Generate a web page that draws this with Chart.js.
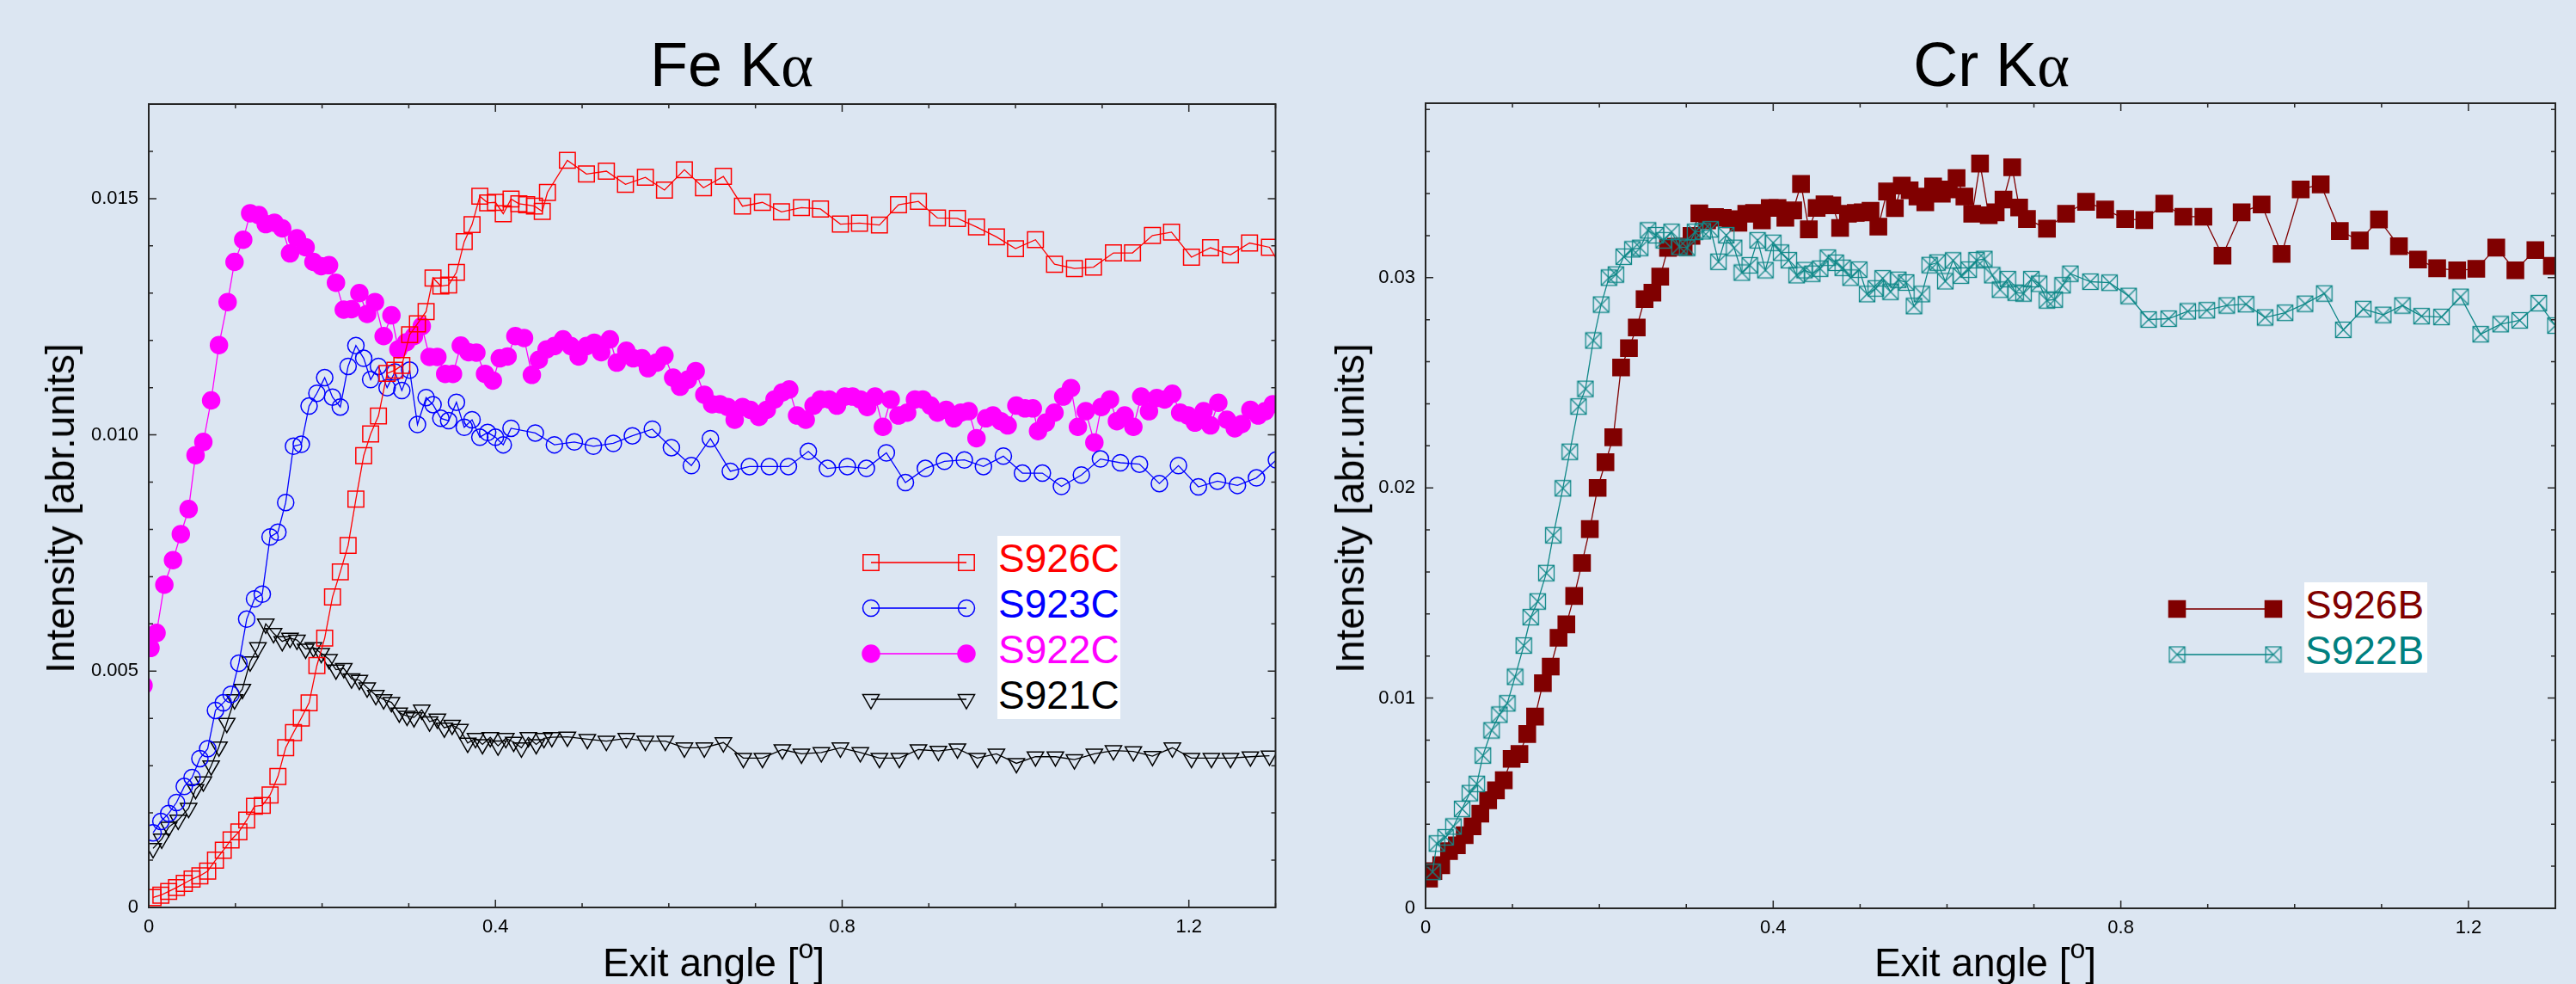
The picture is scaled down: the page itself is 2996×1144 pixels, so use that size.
<!DOCTYPE html>
<html>
<head>
<meta charset="utf-8">
<title>Fe Kα / Cr Kα exit angle scans</title>
<script src="https://cdn.jsdelivr.net/npm/chart.js@4.4.1/dist/chart.umd.min.js"></script>
<style>
  html, body { margin: 0; padding: 0; }
  body {
    width: 2996px; height: 1144px; position: relative; overflow: hidden;
    background: #dce6f2; color: #000;
    font-family: "Liberation Sans", Arial, Helvetica, sans-serif;
  }
  canvas { position: absolute; top: 0; }
  .title { position: absolute; font-size: 72px; line-height: 72px; white-space: nowrap; transform: translateX(-50%); }
  .alpha { font-family: "Liberation Serif", "DejaVu Serif", serif; }
  .xtitle { position: absolute; font-size: 46px; line-height: 46px; white-space: nowrap; transform: translateX(-50%); }
  .xtitle .deg { font-size: 32px; position: relative; top: -21px; }
  .ytitle { position: absolute; font-size: 46px; line-height: 46px; white-space: nowrap; transform: translate(-50%, -50%) rotate(-90deg); }
  .legbox { position: absolute; background: #fff; font-size: 46px; line-height: 53px; width: 143px; padding-left: 1px; box-sizing: border-box; }
</style>
</head>
<body>
<canvas id="feChart" width="1498" height="1144" style="left:0"></canvas>
<canvas id="crChart" width="1498" height="1144" style="left:1498px"></canvas>

<div class="title" style="left:851px; top:39px">Fe K<span class="alpha">α</span></div>
<div class="title" style="left:2316px; top:39px">Cr K<span class="alpha">α</span></div>
<div class="ytitle" style="left:70px; top:591px">Intensity [abr.units]</div>
<div class="ytitle" style="left:1570px; top:591px">Intensity [abr.units]</div>
<div class="xtitle" style="left:830px; top:1096px">Exit angle [<span class="deg">o</span>]</div>
<div class="xtitle" style="left:2309px; top:1096px">Exit angle [<span class="deg">o</span>]</div>

<div class="legbox" style="left:1160px; top:623px; height:213px">
  <div style="color:#ff0000">S926C</div>
  <div style="color:#0000ff">S923C</div>
  <div style="color:#ff00ff">S922C</div>
  <div style="color:#000000">S921C</div>
</div>
<div class="legbox" style="left:2680px; top:677px; height:105px; line-height:52.5px">
  <div style="color:#800000">S926B</div>
  <div style="color:#008080">S922B</div>
</div>

<script>
// ---- axis ticks ----
const xTicks = [0, 0.4, 0.8, 1.2];
const xLabels = ['0', '0.4', '0.8', '1.2'];
const feYTicks = [0, 0.005, 0.010, 0.015];
const feYLabels = ['0', '0.005', '0.010', '0.015'];
const crYTicks = [0, 0.01, 0.02, 0.03];
const crYLabels = ['0', '0.01', '0.02', '0.03'];

// ---- Fe K-alpha : S926C ----
const feS926cX = [0.005,0.014,0.023,0.032,0.041,0.050,0.059,0.068,0.077,0.086,0.095,0.104,0.113,0.122,0.131,0.140,0.149,0.158,0.167,0.176,0.185,0.194,0.203,0.212,0.221,0.230,0.239,0.248,0.256,0.265,0.275,0.284,0.292,0.301,0.310,0.320,0.328,0.337,0.346,0.355,0.364,0.373,0.382,0.391,0.400,0.409,0.418,0.427,0.436,0.445,0.454,0.460,
  0.483,0.505,0.528,0.550,0.573,0.595,0.618,0.640,0.663,0.685,0.708,0.730,0.753,0.775,0.798,0.820,0.843,0.865,0.888,0.910,0.933,0.955,0.978,1.000,1.023,1.045,1.068,1.090,1.113,1.135,1.158,1.180,1.203,1.225,1.248,1.270,1.293,1.315];
const feS926cY = [0.00021,0.00026,0.00034,0.00042,0.00051,0.00060,0.00067,0.00077,0.00100,0.00121,0.00143,0.00160,0.00185,0.00214,0.00216,0.00238,0.00277,0.00338,0.00370,0.00401,0.00433,0.00512,0.00570,0.00657,0.00710,0.00766,0.00864,0.00956,0.01002,0.01040,0.01130,0.01137,0.01147,0.01212,0.01235,0.01261,0.01332,0.01315,0.01317,0.01344,0.01409,0.01445,0.01505,0.01491,0.01492,0.01468,0.01499,0.01489,0.01487,0.01484,0.01473,0.01513,
  0.01581,0.01552,0.01558,0.01530,0.01545,0.01518,0.01561,0.01523,0.01547,0.01484,0.01492,0.01472,0.01481,0.01478,0.01446,0.01448,0.01444,0.01487,0.01494,0.01459,0.01458,0.01440,0.01419,0.01394,0.01413,0.01361,0.01352,0.01355,0.01385,0.01385,0.01422,0.01429,0.01376,0.01396,0.01381,0.01406,0.01397,0.01330];

// ---- Fe K-alpha : S923C ----
const feS923cX = [0.005,0.014,0.023,0.032,0.041,0.050,0.059,0.068,0.077,0.086,0.095,0.104,0.113,0.122,0.131,0.140,0.149,0.158,0.167,0.176,0.185,0.194,0.203,0.212,0.221,0.230,0.239,0.248,0.256,0.265,0.275,0.284,0.292,0.301,0.310,0.320,0.328,0.337,0.346,0.355,0.364,0.373,0.382,0.391,0.400,0.409,0.418,
  0.446,0.468,0.491,0.513,0.536,0.558,0.581,0.603,0.626,0.648,0.671,0.693,0.716,0.738,0.761,0.783,0.806,0.828,0.851,0.873,0.896,0.918,0.941,0.963,0.986,1.008,1.031,1.053,1.076,1.098,1.121,1.143,1.166,1.188,1.211,1.233,1.256,1.278,1.301];
const feS923cY = [0.00158,0.00182,0.00199,0.00222,0.00256,0.00275,0.00315,0.00336,0.00417,0.00433,0.00451,0.00517,0.00610,0.00653,0.00663,0.00784,0.00794,0.00857,0.00976,0.00980,0.01061,0.01088,0.01121,0.01080,0.01059,0.01145,0.01189,0.01162,0.01117,0.01145,0.01100,0.01133,0.01094,0.01137,0.01022,0.01079,0.01064,0.01035,0.01030,0.01069,0.01016,0.01032,0.00995,0.01005,0.00995,0.00979,0.01014,
  0.01004,0.00979,0.00985,0.00976,0.00982,0.00998,0.01012,0.00973,0.00935,0.00992,0.00923,0.00933,0.00933,0.00933,0.00965,0.00929,0.00933,0.00929,0.00962,0.00899,0.00929,0.00944,0.00947,0.00933,0.00955,0.00919,0.00919,0.00891,0.00915,0.00949,0.00941,0.00938,0.00897,0.00935,0.00890,0.00902,0.00893,0.00909,0.00947];

// ---- Fe K-alpha : S922C ----
const feS922cX = [-0.006,0.002,0.009,0.018,0.028,0.037,0.046,0.054,0.063,0.072,0.081,0.091,0.099,0.109,0.117,0.127,0.135,0.145,0.154,0.163,0.171,0.181,0.190,0.199,0.208,0.216,0.225,0.234,0.243,0.252,0.261,0.271,0.280,0.288,0.297,0.306,0.315,0.324,0.333,0.342,0.351,0.360,0.369,0.378,0.388,0.397,0.405,0.414,0.423,0.433,0.442,0.450,0.459,0.468,0.478,0.487,0.496,0.505,0.514,
  0.522,0.532,0.540,0.551,0.559,0.569,0.576,0.586,0.595,0.605,0.613,0.622,0.631,0.641,0.650,0.659,0.668,0.676,0.685,0.694,0.704,0.713,0.722,0.731,0.739,0.748,0.758,0.767,0.775,0.785,0.794,0.803,0.812,0.821,0.829,0.838,0.847,0.856,0.865,0.875,0.884,0.893,0.902,0.910,0.920,0.929,0.937,0.946,0.955,0.966,0.974,0.983,0.991,1.001,1.011,1.020,1.026,1.035,1.045,1.055,1.064,1.072,1.081,1.091,1.099,1.109,1.117,1.126,1.136,1.145,1.154,1.163,1.172,1.181,1.190,1.199,1.207,1.217,1.225,1.234,1.244,1.253,1.261,1.271,1.280,1.288,1.297];
const feS922cY = [0.00470,0.00549,0.00581,0.00683,0.00735,0.00790,0.00843,0.00957,0.00985,0.01073,0.01190,0.01281,0.01366,0.01413,0.01469,0.01465,0.01446,0.01449,0.01437,0.01384,0.01416,0.01397,0.01366,0.01357,0.01359,0.01322,0.01265,0.01266,0.01300,0.01256,0.01281,0.01209,0.01253,0.01181,0.01196,0.01209,0.01230,0.01165,0.01165,0.01129,0.01129,0.01189,0.01175,0.01174,0.01129,0.01115,0.01162,0.01166,0.01209,0.01205,0.01127,0.01159,0.01181,0.01188,0.01202,0.01188,0.01166,0.01188,0.01195,
  0.01175,0.01202,0.01153,0.01178,0.01162,0.01162,0.01141,0.01153,0.01168,0.01121,0.01102,0.01117,0.01135,0.01085,0.01065,0.01065,0.01059,0.01032,0.01059,0.01053,0.01038,0.01053,0.01075,0.01090,0.01096,0.01041,0.01032,0.01062,0.01075,0.01075,0.01062,0.01081,0.01081,0.01075,0.01059,0.01081,0.01017,0.01075,0.01041,0.01047,0.01075,0.01075,0.01062,0.01047,0.01053,0.01035,0.01047,0.01050,0.00993,0.01035,0.01041,0.01029,0.01020,0.01062,0.01056,0.01056,0.01008,0.01026,0.01047,0.01081,0.01099,0.01017,0.01050,0.00984,0.01059,0.01075,0.01029,0.01041,0.01017,0.01081,0.01050,0.01078,0.01075,0.01087,0.01047,0.01041,0.01026,0.01050,0.01020,0.01068,0.01032,0.01014,0.01023,0.01053,0.01041,0.01050,0.01065];

// ---- Fe K-alpha : S921C ----
const feS921cX = [0.005,0.015,0.023,0.034,0.046,0.054,0.063,0.072,0.081,0.090,0.099,0.108,0.117,0.126,0.135,0.144,0.154,0.163,0.171,0.181,0.190,0.199,0.208,0.216,0.225,0.234,0.243,0.252,0.262,0.271,0.280,0.289,0.298,0.306,0.315,0.324,0.333,0.341,0.350,0.359,0.368,0.377,0.385,0.394,0.403,0.412,0.421,0.430,0.438,0.447,0.456,0.465,
  0.483,0.506,0.528,0.551,0.573,0.596,0.618,0.641,0.663,0.686,0.708,0.731,0.753,0.776,0.798,0.821,0.843,0.866,0.888,0.911,0.933,0.956,0.978,1.001,1.023,1.046,1.068,1.091,1.113,1.136,1.158,1.181,1.203,1.226,1.248,1.271,1.293];
const feS921cY = [0.00125,0.00145,0.00170,0.00185,0.00210,0.00250,0.00266,0.00300,0.00340,0.00390,0.00440,0.00462,0.00520,0.00550,0.00600,0.00580,0.00563,0.00570,0.00566,0.00547,0.00550,0.00538,0.00525,0.00503,0.00506,0.00484,0.00481,0.00465,0.00449,0.00440,0.00434,0.00412,0.00405,0.00402,0.00418,0.00393,0.00399,0.00380,0.00386,0.00377,0.00348,0.00358,0.00345,0.00360,0.00342,0.00358,0.00350,0.00338,0.00360,0.00345,0.00358,0.00360,
  0.00361,0.00356,0.00352,0.00358,0.00352,0.00352,0.00338,0.00338,0.00349,0.00316,0.00316,0.00334,0.00325,0.00328,0.00338,0.00328,0.00316,0.00316,0.00334,0.00331,0.00336,0.00316,0.00325,0.00305,0.00319,0.00319,0.00313,0.00325,0.00332,0.00330,0.00320,0.00338,0.00316,0.00316,0.00316,0.00319,0.00321];

// ---- Cr K-alpha : S926B ----
const crS926bX = [0.004,0.009,0.018,0.027,0.036,0.045,0.054,0.063,0.072,0.081,0.090,0.099,0.108,0.117,0.126,0.135,0.144,0.153,0.162,0.171,0.180,0.189,0.198,0.207,0.216,0.225,0.234,0.243,0.252,0.261,0.270,0.279,0.288,0.297,0.306,0.315,0.324,0.333,0.342,0.351,0.360,0.369,0.378,0.387,0.396,0.405,0.414,0.423,0.432,0.441,0.450,0.459,0.468,0.477,0.486,0.495,
  0.503,0.512,0.521,0.531,0.540,0.548,0.557,0.566,0.575,0.584,0.594,0.602,0.611,0.620,0.629,0.638,0.648,0.656,0.665,0.675,0.683,0.692,
  0.715,0.737,0.760,0.782,0.805,0.827,0.850,0.872,0.895,0.917,0.939,0.962,0.985,1.007,1.030,1.052,1.075,1.097,1.120,1.142,1.164,1.187,1.209,1.232,1.254,1.277,1.296];
const crS926bY = [0.00141,0.00177,0.00205,0.00272,0.00300,0.00348,0.00390,0.00450,0.00514,0.00561,0.00609,0.00711,0.00734,0.00829,0.00912,0.01071,0.01150,0.01287,0.01351,0.01486,0.01643,0.01804,0.02000,0.02122,0.02241,0.02573,0.02665,0.02763,0.02898,0.02929,0.03005,0.03142,0.03147,0.03147,0.03199,0.03306,0.03273,0.03289,0.03285,0.03278,0.03261,0.03304,0.03308,0.03273,0.03332,0.03332,0.03285,0.03320,0.03446,0.03230,0.03332,0.03349,0.03344,0.03237,0.03304,0.03308,
  0.03311,0.03318,0.03243,0.03410,0.03331,0.03438,0.03416,0.03386,0.03359,0.03434,0.03400,0.03420,0.03474,0.03386,0.03304,0.03543,0.03297,0.03311,0.03372,0.03525,0.03334,0.03279,
  0.03233,0.03304,0.03361,0.03324,0.03279,0.03274,0.03352,0.03290,0.03290,0.03105,0.03311,0.03348,0.03113,0.03420,0.03444,0.03222,0.03177,0.03277,0.03150,0.03086,0.03045,0.03035,0.03042,0.03143,0.03035,0.03131,0.03056];

// ---- Cr K-alpha : S922B ----
const crS922bX = [0.008,0.013,0.023,0.032,0.042,0.051,0.059,0.066,0.076,0.085,0.094,0.103,0.113,0.121,0.129,0.139,0.147,0.158,0.166,0.176,0.184,0.193,0.202,0.211,0.219,0.228,0.238,
  0.247,0.256,0.265,0.274,0.283,0.292,0.301,0.310,0.319,0.328,0.337,0.346,0.355,0.364,0.373,0.382,0.391,0.400,0.409,0.418,0.427,0.436,0.445,0.454,0.463,0.472,0.480,0.489,
  0.499,0.508,0.518,0.526,0.535,0.544,0.553,0.562,0.571,0.580,0.589,0.598,0.607,0.616,0.625,0.634,0.643,0.652,0.661,0.670,0.679,0.688,0.697,0.706,0.715,0.724,0.733,0.742,0.765,0.787,0.809,0.832,0.855,0.877,0.899,0.922,0.944,0.966,0.989,
  1.012,1.034,1.056,1.079,1.102,1.124,1.146,1.169,1.191,1.214,1.237,1.259,1.281,1.300];
const crS922bY = [0.00173,0.00308,0.00338,0.00389,0.00473,0.00548,0.00592,0.00727,0.00847,0.00921,0.00975,0.01101,0.01250,0.01385,0.01460,0.01595,0.01775,0.01998,0.02172,0.02387,0.02471,0.02701,0.02872,0.03000,0.03015,0.03100,0.03135,
  0.03142,0.03225,0.03202,0.03178,0.03218,0.03147,0.03142,0.03218,0.03221,0.03230,0.03076,0.03202,0.03142,0.03024,0.03059,0.03178,0.03036,0.03166,0.03119,0.03083,0.03012,0.03036,0.03019,0.03043,0.03095,0.03071,0.03047,0.03000,
  0.03038,0.02922,0.02949,0.02997,0.02933,0.02990,0.02977,0.02865,0.02922,0.03060,0.03072,0.02983,0.03082,0.03010,0.03038,0.03083,0.03089,0.03012,0.02943,0.02993,0.02929,0.02925,0.02993,0.02971,0.02892,0.02896,0.02964,0.03019,0.02981,0.02976,0.02913,0.02801,0.02805,0.02840,0.02845,0.02868,0.02874,0.02811,0.02833,
  0.02876,0.02925,0.02752,0.02851,0.02823,0.02868,0.02817,0.02813,0.02909,0.02731,0.02779,0.02797,0.02879,0.02772];

const FONT = '"Liberation Sans", Arial, Helvetica, sans-serif';
Chart.defaults.font.family = FONT;

const pts = (xs, ys) => xs.map((x, i) => ({ x: x, y: ys[i] }));

// boxed cross marker used for S922B
function boxCross(color) {
  const c = document.createElement('canvas');
  c.width = 21; c.height = 21;
  const g = c.getContext('2d');
  g.strokeStyle = color;
  g.lineWidth = 1.3;
  g.strokeRect(1.5, 1.5, 18, 18);
  g.beginPath();
  g.moveTo(1.5, 1.5); g.lineTo(19.5, 19.5);
  g.moveTo(19.5, 1.5); g.lineTo(1.5, 19.5);
  g.stroke();
  return c;
}

function line(label, data, color, style, radius, filled, extra) {
  return Object.assign({
    label: label,
    data: data,
    borderColor: color,
    borderWidth: 1.3,
    pointStyle: style,
    pointRadius: radius,
    pointHoverRadius: radius,
    pointBorderWidth: 1.5,
    pointBorderColor: color,
    pointBackgroundColor: filled ? color : 'rgba(0,0,0,0)',
    tension: 0,
    fill: false,
    clip: 0
  }, extra || {});
}

// frame, inward ticks on all four sides, and legend samples
const framePlugin = {
  id: 'frame',
  afterDatasetsDraw(chart, args, opts) {
    const ctx = chart.ctx;
    const a = chart.chartArea;
    const xs = chart.scales.x, ys = chart.scales.y;
    ctx.save();
    ctx.strokeStyle = '#262626';
    ctx.lineWidth = 2;
    ctx.strokeRect(a.left, a.top, a.right - a.left, a.bottom - a.top);

    ctx.lineWidth = 1.5;
    ctx.beginPath();
    const isMajor = (v, m) => Math.abs(v / m - Math.round(v / m)) < 1e-6;
    for (let i = 0; i * opts.xMinor <= xs.max + 1e-9; i++) {
      const v = i * opts.xMinor;
      const p = xs.getPixelForValue(v);
      const len = isMajor(v, opts.xMajor) ? 9 : 5;
      ctx.moveTo(p, a.bottom); ctx.lineTo(p, a.bottom - len);
      ctx.moveTo(p, a.top); ctx.lineTo(p, a.top + len);
    }
    for (let i = 0; i * opts.yMinor <= ys.max + 1e-9; i++) {
      const v = i * opts.yMinor;
      const p = ys.getPixelForValue(v);
      const len = isMajor(v, opts.yMajor) ? 9 : 5;
      ctx.moveTo(a.left, p); ctx.lineTo(a.left + len, p);
      ctx.moveTo(a.right, p); ctx.lineTo(a.right - len, p);
    }
    ctx.stroke();

    // legend samples: a short line with the marker at both ends
    opts.legend.rows.forEach((y, i) => {
      const ds = chart.data.datasets[i];
      ctx.globalAlpha = 0.8;
      ctx.strokeStyle = ds.borderColor;
      ctx.lineWidth = 2;
      ctx.beginPath();
      ctx.moveTo(opts.legend.x1, y); ctx.lineTo(opts.legend.x2, y);
      ctx.stroke();
      ctx.globalAlpha = 1;
      [opts.legend.x1, opts.legend.x2].forEach(x => {
        ctx.fillStyle = ds.pointBackgroundColor;
        ctx.strokeStyle = ds.pointBorderColor;
        ctx.lineWidth = ds.pointBorderWidth;
        Chart.helpers.drawPoint(ctx, {
          pointStyle: ds.pointStyle, radius: ds.pointRadius,
          rotation: ds.pointRotation || 0, borderWidth: ds.pointBorderWidth
        }, x, y);
      });
    });
    ctx.restore();
  }
};

function makeChart(id, datasets, yMax, yTicks, yLabels, yWidth, pad, frameOpts) {
  return new Chart(document.getElementById(id), {
    type: 'line',
    data: { datasets: datasets },
    plugins: [framePlugin],
    options: {
      responsive: false,
      animation: false,
      events: [],
      layout: { padding: pad },
      plugins: { legend: { display: false }, tooltip: { enabled: false }, frame: frameOpts },
      scales: {
        x: {
          type: 'linear', min: 0, max: 1.3,
          grid: { display: false, drawTicks: false },
          border: { display: false },
          afterBuildTicks: s => { s.ticks = xTicks.map(v => ({ value: v })); },
          afterFit: s => { s.height = 60; },
          ticks: {
            autoSkip: false, maxRotation: 0, padding: 10, color: '#000',
            font: { family: FONT, size: 22 },
            callback: (v, i) => xLabels[i]
          }
        },
        y: {
          type: 'linear', min: 0, max: yMax,
          grid: { display: false, drawTicks: false },
          border: { display: false },
          afterBuildTicks: s => { s.ticks = yTicks.map(v => ({ value: v })); },
          afterFit: s => { s.width = yWidth; },
          ticks: {
            autoSkip: false, padding: 12, color: '#000',
            font: { family: FONT, size: 22 },
            callback: (v, i) => yLabels[i]
          }
        }
      }
    }
  });
}

makeChart('feChart', [
    line('S926C', pts(feS926cX, feS926cY), '#ff0000', 'rect', 13, false),
    line('S923C', pts(feS923cX, feS923cY), '#0000ff', 'circle', 9.5, false),
    line('S922C', pts(feS922cX, feS922cY), '#ff00ff', 'circle', 10, true),
    line('S921C', pts(feS921cX, feS921cY), '#000000', 'triangle', 11, false, { pointRotation: 180 })
  ], 0.017, feYTicks, feYLabels, 173,
  { left: 0, right: 11, top: 121, bottom: 29 },
  { xMinor: 0.1, xMajor: 0.4, yMinor: 0.001, yMajor: 0.005,
    legend: { x1: 1013, x2: 1124, rows: [654, 707, 760, 813] } });

makeChart('crChart', [
    line('S926B', pts(crS926bX, crS926bY), '#800000', 'rect', 13.5, true),
    line('S922B', pts(crS922bX, crS922bY), '#108888', boxCross('#108888'), 10.5, false, { order: -1 })
  ], 0.0383, crYTicks, crYLabels, 160,
  { left: 0, right: 24, top: 120, bottom: 28 },
  { xMinor: 0.1, xMajor: 0.4, yMinor: 0.002, yMajor: 0.01,
    legend: { x1: 1034, x2: 1146, rows: [708, 761] } });
</script>
</body>
</html>
